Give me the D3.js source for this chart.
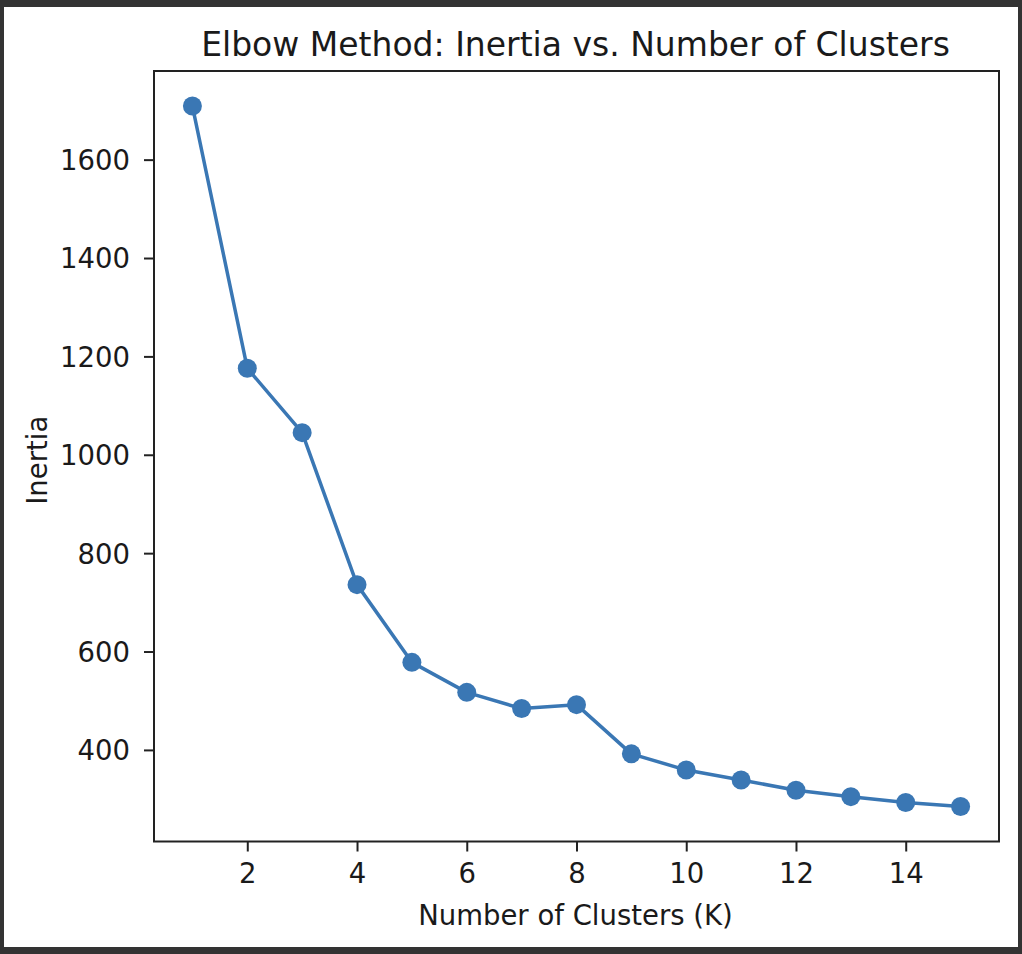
<!DOCTYPE html>
<html>
<head>
<meta charset="utf-8">
<script src="https://cdn.jsdelivr.net/npm/d3@7"></script>
<style>
  html, body { margin: 0; padding: 0; background: #333333; }
  svg { display: block; }
  text { font-family: "DejaVu Sans", sans-serif; fill: #1a1a1a; }
</style>
</head>
<body>
<svg id="chart" width="1022" height="954"></svg>
<script>
// ---- data ----
const clusters = [1, 2, 3, 4, 5, 6, 7, 8, 9, 10, 11, 12, 13, 14, 15];
const inertia = [1709, 1176, 1045, 736, 578, 517, 484, 492, 392, 359, 339, 318, 305, 293, 285];
const xTicks = [2, 4, 6, 8, 10, 12, 14];
const yTicks = [400, 600, 800, 1000, 1200, 1400, 1600];
const titleText = "Elbow Method: Inertia vs. Number of Clusters";
const xLabel = "Number of Clusters (K)";
const yLabel = "Inertia";

const svg = d3.select("#chart");
const color = "#3a77b4";
const ink = "#222222";
const tickFont = 27.5;

// canvas (white figure area inside dark frame)
svg.append("rect").attr("x", 0).attr("y", 0).attr("width", 1022).attr("height", 954).attr("fill", "#333333");
svg.append("rect").attr("x", 4).attr("y", 7).attr("width", 1014).attr("height", 940).attr("fill", "#ffffff");

// plot area
const L = 154, R = 999, T = 71, B = 841.5;
const xMin = d3.min(clusters), xMax = d3.max(clusters);
const yMin = d3.min(inertia), yMax = d3.max(inertia);
const xPad = (xMax - xMin) * 0.05, yPad = (yMax - yMin) * 0.05;
const x = d3.scaleLinear().domain([xMin - xPad, xMax + xPad]).range([L, R]);
const y = d3.scaleLinear().domain([yMin - yPad, yMax + yPad]).range([B, T]);

// axes
const xAxis = d3.axisBottom(x).tickValues(xTicks).tickSize(10).tickPadding(12).tickFormat(d3.format("d"));
const yAxis = d3.axisLeft(y).tickValues(yTicks).tickSize(10).tickPadding(14).tickFormat(d3.format("d"));

const gx = svg.append("g").attr("transform", `translate(0,${B})`).call(xAxis);
const gy = svg.append("g").attr("transform", `translate(${L},0)`).call(yAxis);
[gx, gy].forEach(g => {
  g.select(".domain").remove();
  g.selectAll(".tick line").attr("stroke", ink).attr("stroke-width", 2);
  g.selectAll(".tick text").attr("font-size", tickFont).attr("font-family", "DejaVu Sans").style("fill", "#1a1a1a");
});
gx.selectAll(".tick text").attr("dy", "0.71em");
gy.selectAll(".tick text").attr("dy", "0.36em");

// line + markers
const line = d3.line().x((d, i) => x(clusters[i])).y(d => y(d));
svg.append("path").datum(inertia)
  .attr("d", line).attr("fill", "none")
  .attr("stroke", color).attr("stroke-width", 3.5).attr("stroke-linejoin", "round");
svg.append("g").selectAll("circle").data(inertia).join("circle")
  .attr("cx", (d, i) => x(clusters[i])).attr("cy", d => y(d))
  .attr("r", 9.5).attr("fill", color);

// spines
svg.append("rect").attr("x", L).attr("y", T).attr("width", R - L).attr("height", B - T)
  .attr("fill", "none").attr("stroke", ink).attr("stroke-width", 2);

// title & labels
svg.append("text").attr("x", (L + R) / 2 - 1).attr("y", 56).attr("text-anchor", "middle")
  .attr("font-size", 33).text(titleText);
svg.append("text").attr("x", (L + R) / 2 - 1).attr("y", 925).attr("text-anchor", "middle")
  .attr("font-size", tickFont).text(xLabel);
svg.append("text").attr("transform", `translate(47,${(T + B) / 2 + 4}) rotate(-90)`)
  .attr("text-anchor", "middle").attr("font-size", tickFont).text(yLabel);
</script>
</body>
</html>
